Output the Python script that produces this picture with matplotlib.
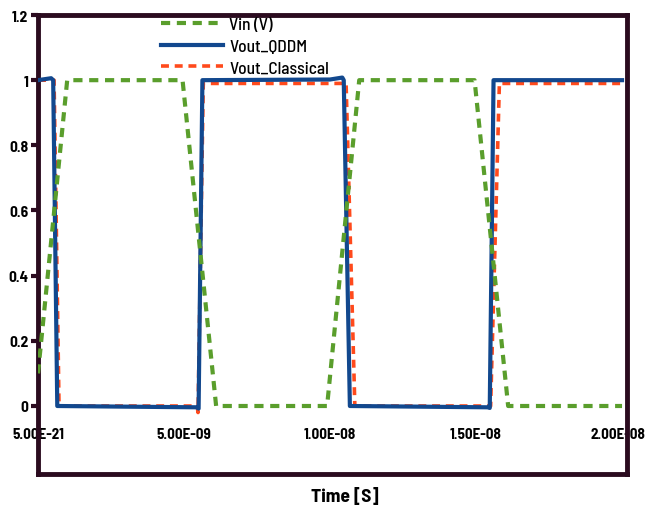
import matplotlib
matplotlib.use("Agg")
import matplotlib.pyplot as plt
import matplotlib.transforms as mtransforms

# time axis in ns
t_vin = [5e-12, 1.0, 4.95, 6.1, 9.9, 11.0, 14.95, 16.1, 20.0]
vin = [0.1, 1.0, 1.0, 0.0, 0.0, 1.0, 1.0, 0.0, 0.0]

t_qddm = [0.0, 0.45, 0.52, 0.66, 3.0, 5.45, 5.50, 5.63, 10.0, 10.42, 10.47, 10.68, 15.40, 15.47, 15.60, 20.0]
vout_qddm = [1.0, 1.006, 1.0, 0.0, -0.002, -0.004, -0.008, 1.0, 1.002, 1.008, 1.0, 0.0, -0.004, -0.006, 1.0, 1.0]

t_cls = [0.0, 0.55, 0.72, 5.45, 5.48, 5.66, 10.55, 10.85, 15.50, 15.80, 20.0]
vout_cls = [1.0, 1.0, 0.0, 0.0, -0.02, 0.99, 0.99, 0.0, 0.0, 0.99, 0.99]

xticks = [5e-21, 5e-9, 1e-8, 1.5e-8, 2e-8]
yticks = [0, 0.2, 0.4, 0.6, 0.8, 1.0, 1.2]
ytick_labels = ["0", "0.2", "0.4", "0.6", "0.8", "1", "1.2"]

frame_col = "#2b0b1f"
fam = ["Barlow Semi Condensed", "DejaVu Sans"]

fig = plt.figure(figsize=(6.48, 5.10), dpi=100)
ax = fig.add_axes([38/648, 1-475/510, (627-38)/648, (475-16)/510])

ns = 1e-9
ax.plot([t*ns for t in t_cls], vout_cls, color="#ff4a1c", lw=2.6, ls=(0, (2.2, 1.6)), zorder=2, label="Vout_Classical")
ax.plot([t*ns for t in t_qddm], vout_qddm, color="#12488e", lw=3.0, zorder=3, label="Vout_QDDM")
ax.plot([t*ns for t in t_vin], vin, color="#5a9e2c", lw=3.0, ls=(0, (2.2, 1.6)), zorder=4, label="Vin (V)")

ax.set_xlim(0, 2.017e-8)
ax.set_ylim(-0.2087, 1.2)

for s in ax.spines.values():
    s.set_color(frame_col)
    s.set_linewidth(3.5)

ax.set_yticks(yticks)
ax.set_yticklabels(ytick_labels, fontfamily=fam, fontweight="bold", fontsize=11)
ax.tick_params(axis="y", length=5, width=3, color=frame_col, pad=2)

ax.set_xticks(xticks)
ax.set_xticklabels(["%.2E" % v for v in xticks], fontfamily=fam, fontweight="bold", fontsize=10.8)
ax.tick_params(axis="x", length=0, pad=-34)
# last label sits against the right edge, nudge it in a little
last = ax.get_xticklabels()[-1]
last.set_transform(last.get_transform() + mtransforms.ScaledTranslation(-4/100, 0, fig.dpi_scale_trans))

fig.text(345/648, 1-497/510, "Time [S]", ha="center", va="center",
         fontfamily=fam, fontweight="bold", fontsize=14)

h, l = ax.get_legend_handles_labels()
leg = ax.legend(h[::-1], l[::-1], loc="upper left", bbox_to_anchor=(152/648, 1-9/510),
                bbox_transform=fig.transFigure, frameon=False, borderpad=0,
                handlelength=3.6, handletextpad=0.35, labelspacing=0.38,
                prop={"family": fam, "size": 12.5, "weight": 500})
leg.set_zorder(5)

fig.savefig("out.png", dpi=100)
